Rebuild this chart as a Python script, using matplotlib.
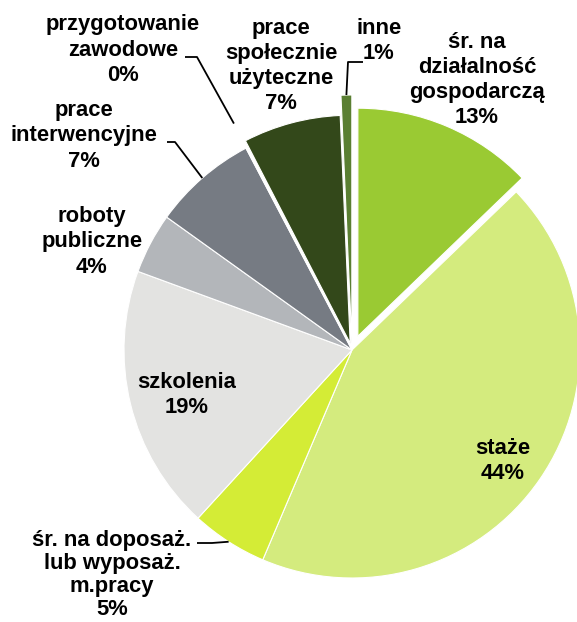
import matplotlib
matplotlib.use("Agg")
import matplotlib.pyplot as plt
import numpy as np

# categories clockwise from the top
names = ["śr. na\ndziałalność\ngospodarczą", "staże", "śr. na doposaż.\nlub wyposaż.\nm.pracy",
         "szkolenia", "roboty\npubliczne", "prace\ninterwencyjne", "przygotowanie\nzawodowe",
         "prace\nspołecznie\nużyteczne", "inne"]
values = [12.8, 43.6, 5.4, 18.8, 4.3, 7.4, 0.1, 6.9, 0.7]
colors = ["#9ACA33", "#D4EB7E", "#D4EC36", "#E3E3E1", "#B3B6BA", "#767B83", "#FFFFFF",
          "#33481A", "#5A7F32"]

# explode offsets are in data units (= pixels here)
explode = [15, 0, 0, 0, 0, 0, 0, 7, 7]

W, H = 577, 622
fig = plt.figure(figsize=(W / 100, H / 100), dpi=100)
ax = fig.add_axes([0, 0, 1, 1])

cx, cy, R = 352, H - 350, 228
wedges, _ = ax.pie(values, colors=colors, explode=explode, startangle=90, counterclock=False,
                   center=(cx, cy), radius=R, frame=True,
                   wedgeprops=dict(edgecolor="white", linewidth=0.8))
wedges[8].set_radius(248)  # "inne" sticks out further

ax.set_xlim(0, W)
ax.set_ylim(0, H)
ax.set_aspect("equal")
ax.axis("off")

font = dict(family="Liberation Sans", weight="bold", size=15.8, color="black",
            ha="center", va="center")

# label block centres (image pixels, y from top)
label_pos = [(477, 80), (503, 461), (112, 575), (187, 395), (92, 242), (84, 136),
             (123, 50), (281, 66), (379, 41)]
spacing = [1.26, 1.26, 1.13, 1.26, 1.26, 1.26, 1.26, 1.26, 1.26]

for name, v, (lx, ly), ls in zip(names, values, label_pos, spacing):
    ax.text(lx, H - ly, f"{name}\n{v:.0f}%", linespacing=ls, **font)


def edge_point(w, frac):
    t = np.radians((w.theta1 + w.theta2) / 2)
    x0, y0 = w.center
    return x0 + w.r * frac * np.cos(t), y0 + w.r * frac * np.sin(t)


# leader lines: start of line at the label, short horizontal, then to wedge
leaders = [(6, (185, 57), (197, 57), 1.12),
           (5, (167, 142), (175, 142), 1.0),
           (8, (363, 62), (348, 62), 1.0),
           (2, (197, 543), (212, 543), 1.0)]
for i, p0, p1, frac in leaders:
    ex, ey = edge_point(wedges[i], frac)
    ax.plot([p0[0], p1[0], ex], [H - p0[1], H - p1[1], ey], color="black", lw=1.3,
            solid_capstyle="butt")

plt.savefig("out.png", dpi=100)
